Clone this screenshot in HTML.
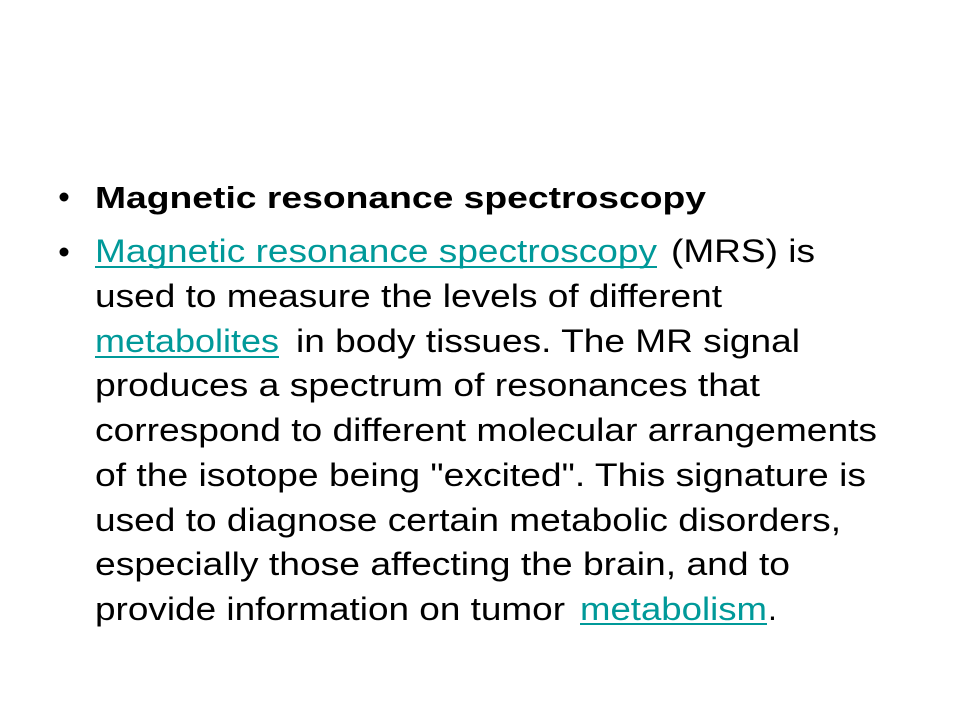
<!DOCTYPE html>
<html><head><meta charset="utf-8"><style>html,body{margin:0;padding:0;background:#fff}svg{display:block}</style></head><body>
<svg width="960" height="720" xmlns="http://www.w3.org/2000/svg" font-family="Liberation Sans, Arial, sans-serif" font-size="32">
<g fill="#000">
<circle cx="64" cy="197" r="4.5"/>
<circle cx="64" cy="252" r="4.5"/>
</g>
<text x="95" y="208" font-weight="bold" font-size="31" textLength="611" lengthAdjust="spacingAndGlyphs">Magnetic resonance spectroscopy</text>
<text x="95" y="262" textLength="562" lengthAdjust="spacingAndGlyphs" fill="#009999">Magnetic resonance spectroscopy</text>
<text x="671" y="262" textLength="144" lengthAdjust="spacingAndGlyphs">(MRS) is</text>
<line x1="95" y1="267" x2="657" y2="267" stroke="#009999" stroke-width="2"/>
<text x="95" y="307" textLength="627" lengthAdjust="spacingAndGlyphs">used to measure the levels of different</text>
<text x="95" y="352" textLength="184" lengthAdjust="spacingAndGlyphs" fill="#009999">metabolites</text>
<line x1="95" y1="357" x2="279" y2="357" stroke="#009999" stroke-width="2"/>
<text x="296" y="352" textLength="504" lengthAdjust="spacingAndGlyphs">in body tissues. The MR signal</text>
<text x="95" y="396" textLength="665" lengthAdjust="spacingAndGlyphs">produces a spectrum of resonances that</text>
<text x="95" y="441" textLength="782" lengthAdjust="spacingAndGlyphs">correspond to different molecular arrangements</text>
<text x="95" y="486" textLength="771" lengthAdjust="spacingAndGlyphs">of the isotope being "excited". This signature is</text>
<text x="95" y="531" textLength="746" lengthAdjust="spacingAndGlyphs">used to diagnose certain metabolic disorders,</text>
<text x="95" y="575" textLength="695" lengthAdjust="spacingAndGlyphs">especially those affecting the brain, and to</text>
<text x="95" y="620" textLength="470" lengthAdjust="spacingAndGlyphs">provide information on tumor</text>
<text x="580" y="620" textLength="187" lengthAdjust="spacingAndGlyphs" fill="#009999">metabolism</text>
<line x1="580" y1="624" x2="767" y2="624" stroke="#009999" stroke-width="2"/>
<text x="768" y="620">.</text>
</svg>
</body></html>
